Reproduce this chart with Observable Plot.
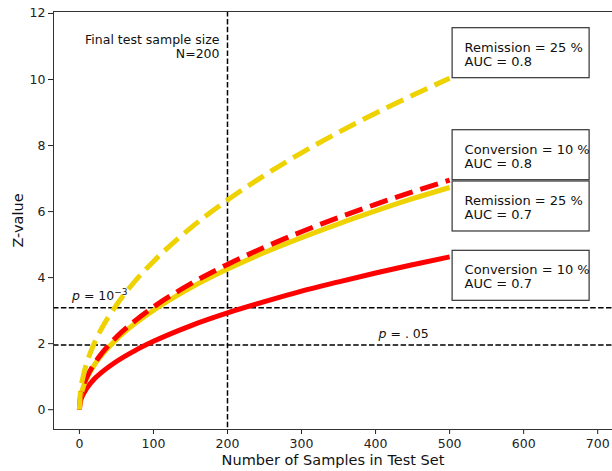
<!DOCTYPE html>
<html><head><meta charset="utf-8">
<script src="https://cdn.jsdelivr.net/npm/d3@7"></script>
<script src="https://cdn.jsdelivr.net/npm/@observablehq/plot@0.6"></script>
<style>body{margin:0;background:#fff} svg{display:block}</style>
</head><body><div id="chart"></div>
<script>
// Sample sizes at which the curves were read
const samples = [0, 1, 5, 10, 20, 30, 50, 75, 100, 150, 200, 250, 300, 350, 400, 450, 500];
// Z-values
const remissionAuc08  = [0, 0.45, 1.00, 1.42, 2.01, 2.46, 3.17, 3.89, 4.49, 5.50, 6.35, 7.10, 7.78, 8.40, 8.98, 9.52, 10.04];
const conversionAuc08 = [0, 0.31, 0.70, 0.98, 1.39, 1.70, 2.20, 2.69, 3.11, 3.81, 4.40, 4.92, 5.39, 5.82, 6.22, 6.60, 6.95];
const remissionAuc07  = [0, 0.30, 0.67, 0.95, 1.35, 1.65, 2.13, 2.61, 3.01, 3.69, 4.26, 4.76, 5.21, 5.63, 6.02, 6.39, 6.73];
const conversionAuc07 = [0, 0.21, 0.46, 0.65, 0.93, 1.13, 1.46, 1.79, 2.07, 2.54, 2.93, 3.27, 3.59, 3.87, 4.14, 4.39, 4.63];
const seriesLabels = ["Remission = 25 %\nAUC = 0.8", "Conversion = 10 %\nAUC = 0.8", "Remission = 25 %\nAUC = 0.7", "Conversion = 10 %\nAUC = 0.7"];
const xTicks = [0, 100, 200, 300, 400, 500, 600, 700];
const yTicks = [0, 2, 4, 6, 8, 10, 12];
const significance = [3.09, 1.96];
const significanceLabels = ["p = 10−3", "p = .05"];
const finalSampleSize = 200;
const finalSampleText = "Final test sample size\nN=200";
const xLabel = "Number of Samples in Test Set";
const yLabel = "Z-value";

const YELLOW = "#eed202", RED = "#ff0000";
const seriesValues = [remissionAuc08, conversionAuc08, remissionAuc07, conversionAuc07];
const seriesStyle = [
  {stroke: YELLOW, dash: "18.5,8", labelPos: "above"},
  {stroke: RED, dash: "18.5,8", labelPos: "above"},
  {stroke: YELLOW, dash: null, labelPos: "below"},
  {stroke: RED, dash: null, labelPos: "below"}
];
const table = seriesValues.map((vals, i) => samples.map((n, j) => ({n, z: vals[j], s: i})));
const ends = seriesValues.map((vals, i) => ({n: samples[samples.length - 1], z: vals[vals.length - 1], name: seriesLabels[i], pos: seriesStyle[i].labelPos}));

const drawOrder = [3, 2, 1, 0];
const font = "DejaVu Sans, sans-serif";

const chart = Plot.plot({
  width: 612, height: 471,
  marginLeft: 53, marginRight: 0, marginTop: 11, marginBottom: 42,
  style: {fontFamily: font, fontSize: "12.5px", color: "#222", background: "#fff"},
  x: {domain: [-35, 720], ticks: xTicks, label: null, tickSize: 5, tickPadding: 5},
  y: {domain: [-0.6, 12.06], ticks: yTicks, label: null, tickSize: 5, tickPadding: 3},
  marks: [
    Plot.ruleY(significance, {stroke: "#000", strokeWidth: 1.5, strokeDasharray: "5.5,2.4"}),
    Plot.ruleX([finalSampleSize], {stroke: "#000", strokeWidth: 1.5, strokeDasharray: "5.5,2.4"}),
    ...drawOrder.map(i => Plot.line(table[i], {
      x: "n", y: "z", stroke: seriesStyle[i].stroke, strokeWidth: 5,
      strokeDasharray: seriesStyle[i].dash, strokeLinecap: "butt", curve: "monotone-x"
    })),
    Plot.text(ends.filter(d => d.pos === "above"), {x: "n", y: "z", text: "name", textAnchor: "start", lineAnchor: "middle", dx: 15, dy: -24, fontSize: 13, lineHeight: 1.08, fill: "#111", ariaLabel: () => "boxlabel"}),
    Plot.text(ends.filter(d => d.pos === "below"), {x: "n", y: "z", text: "name", textAnchor: "start", lineAnchor: "middle", dx: 15, dy: 20, fontSize: 13, lineHeight: 1.08, fill: "#111", ariaLabel: () => "boxlabel"}),
    Plot.text([finalSampleText], {x: finalSampleSize, y: 11, text: d => d, textAnchor: "end", lineAnchor: "middle", dx: -8, fontSize: 12.5, lineHeight: 1.08, fill: "#111"}),
    Plot.text([significanceLabels[0]], {x: -10, y: significance[0], text: d => d, textAnchor: "start", lineAnchor: "middle", dy: -12, fontSize: 12.5, fill: "#111", ariaLabel: () => "pnote0"}),
    Plot.text([significanceLabels[1]], {x: 404, y: significance[1], text: d => d, textAnchor: "start", lineAnchor: "middle", dy: -11, fontSize: 12.5, fill: "#111", ariaLabel: () => "pnote1"}),
    Plot.text([yLabel], {frameAnchor: "left", dx: -35, rotate: -90, text: d => d, textAnchor: "middle", lineAnchor: "middle", fontSize: 14.5, fill: "#111"}),
    Plot.text([xLabel], {frameAnchor: "bottom", dy: 31, text: d => d, textAnchor: "middle", lineAnchor: "middle", fontSize: 14.5, fill: "#111"}),
    Plot.frame({stroke: "#333", strokeWidth: 1})
  ]
});
document.getElementById("chart").appendChild(chart);

// white framed boxes behind the series labels, placed via the chart scales
const sx = chart.scale("x"), sy = chart.scale("y");
const svg = d3.select(chart);
const labelTexts = svg.selectAll("text[aria-label=boxlabel]").nodes();
const firstLabelGroup = labelTexts.length ? labelTexts[0].parentNode : null;
const boxes = firstLabelGroup
  ? d3.select(firstLabelGroup.parentNode).insert("g", () => firstLabelGroup)
  : svg.append("g");
ends.forEach(d => {
  const px = sx.apply(d.n), py = sy.apply(d.z);
  const cy = py + (d.pos === "above" ? -24 : 20);
  boxes.append("rect")
    .attr("x", px + 3).attr("y", cy - 26)
    .attr("width", 137).attr("height", 50)
    .attr("fill", "#fff").attr("stroke", "#333").attr("stroke-width", 1.2);
});
if (!firstLabelGroup) boxes.lower();

// mathtext-like formatting for the p annotations
const p0 = svg.select("text[aria-label=pnote0]");
if (!p0.empty()) {
  p0.text(null);
  p0.append("tspan").attr("font-style", "italic").text("p");
  p0.append("tspan").text(" = 10");
  p0.append("tspan").attr("dy", "-5").attr("font-size", "9").text("−3");
}
const p1 = svg.select("text[aria-label=pnote1]");
if (!p1.empty()) {
  p1.text(null);
  p1.append("tspan").attr("font-style", "italic").text("p");
  p1.append("tspan").text(" = . 05");
}
</script>
</body></html>
